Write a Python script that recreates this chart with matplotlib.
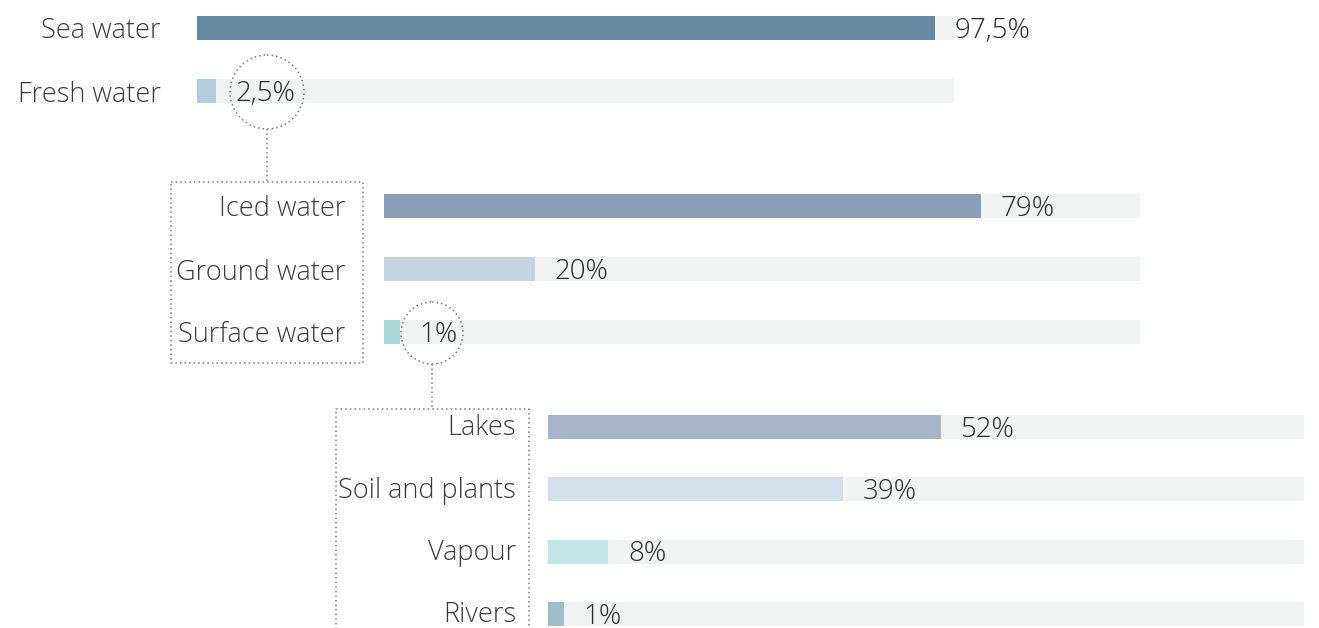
import matplotlib
matplotlib.use("Agg")
import matplotlib.pyplot as plt
from matplotlib.patches import Circle, Rectangle
from matplotlib.transforms import ScaledTranslation

# Data
world_labels = ["Sea water", "Fresh water"]
world_values = [97.5, 2.5]
world_text = ["97,5%", "2,5%"]
world_colors = ["#6689a3", "#b1cfdb"]

fresh_labels = ["Iced water", "Ground water", "Surface water"]
fresh_values = [79, 20, 1]
fresh_text = ["79%", "20%", "1%"]
fresh_colors = ["#889fb6", "#c3d6e0", "#a9d8da"]

surface_labels = ["Lakes", "Soil and plants", "Vapour", "Rivers"]
surface_values = [52, 39, 8, 1]
surface_text = ["52%", "39%", "8%", "1%"]
surface_colors = ["#a6b4c8", "#d3e0e9", "#c5e4e4", "#9cc0c6"]

plt.rcParams["font.family"] = ["Open Sans", "DejaVu Sans"]
plt.rcParams["font.weight"] = "light"

W, H = 1319, 628
fig = plt.figure(figsize=(W / 100, H / 100), dpi=100)
fig.patch.set_facecolor("white")

track_color = "#f1f2f2"
text_color = "#2b2b2b"


def group(left, top, width, row_h, pad, labels, values, texts, colors, lift=0):
    n = len(labels)
    ax = fig.add_axes([left / W, 1 - (top + n * row_h) / H, width / W, n * row_h / H])
    ax.set_xlim(0, 100)
    ax.set_ylim(n - 0.5, -0.5)
    y = list(range(n))
    ax.barh(y, [100] * n, height=24 / row_h, color=track_color)
    # tiny shares get a minimum visible width
    shown = [max(v, 2.1) for v in values]
    ax.barh(y, shown, height=24 / row_h, color=colors)
    for i in range(n):
        ax.annotate(texts[i], (shown[i], i), xytext=(14, -2), textcoords="offset points",
                    va="center", ha="left", fontsize=20, color=text_color)
    ax.set_yticks(y)
    ax.set_yticklabels(labels, fontsize=19.5, color="#3a3a3a")
    ax.tick_params(axis="y", length=0, pad=pad)
    if lift:
        for lab in ax.get_yticklabels():
            lab.set_transform(lab.get_transform() + ScaledTranslation(0, lift / 100, fig.dpi_scale_trans))
    ax.set_xticks([])
    for s in ax.spines.values():
        s.set_visible(False)
    ax.patch.set_alpha(0)
    return ax


group(197, 28 - 31.5, 757, 63, 26, world_labels, world_values, world_text, world_colors)
group(384, 206 - 31.5, 756, 63, 28, fresh_labels, fresh_values, fresh_text, fresh_colors)
group(548, 427 - 31.2, 756, 62.3, 23, surface_labels, surface_values, surface_text, surface_colors, lift=2)

# decorations: circles, connectors, dotted boxes (pixel coordinates)
deco = fig.add_axes([0, 0, 1, 1])
deco.set_xlim(0, W)
deco.set_ylim(H, 0)
deco.axis("off")
deco.patch.set_alpha(0)
dot = dict(color="#7a7a7a", linewidth=1.1, linestyle=(0, (1, 2)))

deco.add_patch(Circle((267, 92), 37, fill=False, **dot))
deco.plot([267, 267], [129, 182], **dot)
deco.add_patch(Rectangle((171, 182), 192, 181, fill=False, **dot))

deco.add_patch(Circle((432, 333), 31, fill=False, **dot))
deco.plot([432, 432], [364, 409], **dot)
deco.plot([336, 336, 529, 529], [H + 5, 409, 409, H + 5], **dot)

fig.savefig("out.png", dpi=100)
